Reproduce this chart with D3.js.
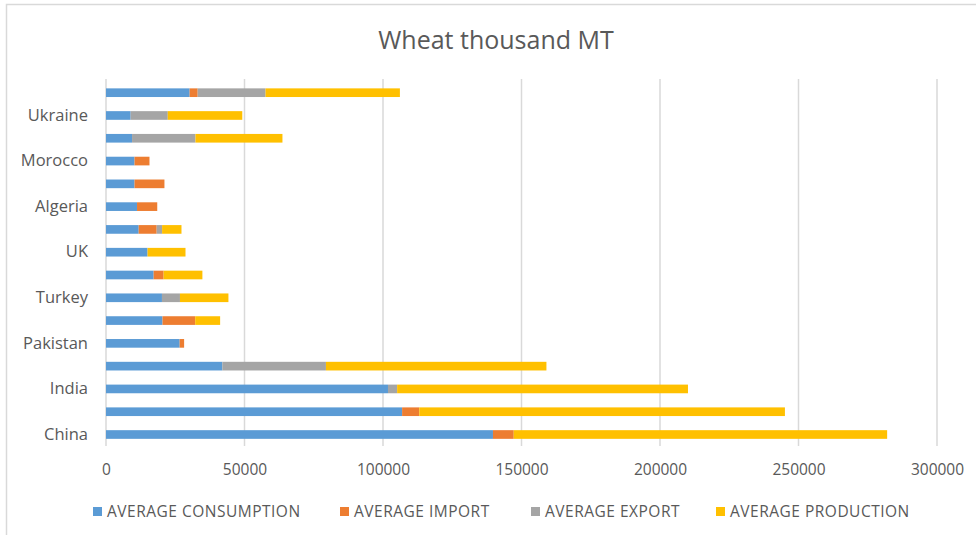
<!DOCTYPE html>
<html>
<head>
<meta charset="utf-8">
<script src="https://cdn.jsdelivr.net/npm/d3@7"></script>
<style>
    body { margin: 0; background: #fff; }
    svg { display: block; }
</style>
</head>
<body>
<div id="chart"></div>
<script>
// bottom to top, only every other label is printed
const countries = ["China", "EU", "India", "Russia", "Pakistan", "Egypt", "Turkey", "Iran",
    "UK", "Brazil", "Algeria", "Indonesia", "Morocco", "Canada", "Ukraine", "USA"];
const consumption = [139700, 106900, 101800, 42000, 26600, 20400, 20200, 17200,
    15000, 11800, 11200, 10300, 10300, 9400, 8900, 30200];
const imports = [7500, 6200, 0, 0, 1600, 11800, 0, 3600,
    0, 6500, 7300, 10800, 5400, 0, 0, 2900];
const exports = [0, 0, 3300, 37400, 0, 0, 6500, 0,
    0, 1950, 0, 0, 0, 22900, 13400, 24500];
const production = [134800, 132000, 105000, 79600, 0, 9000, 17500, 14000,
    13700, 7000, 0, 0, 0, 31400, 26900, 48500];
const seriesNames = ["AVERAGE CONSUMPTION", "AVERAGE IMPORT", "AVERAGE EXPORT", "AVERAGE PRODUCTION"];
const xTicks = [0, 50000, 100000, 150000, 200000, 250000, 300000];

const colors = ["#5b9bd5", "#ed7d31", "#a5a5a5", "#ffc000"];
const width = 976, height = 535;
const font = "'Open Sans', 'DejaVu Sans', sans-serif";

const rows = countries.map((c, i) => ({
    country: c, c: consumption[i], i: imports[i], e: exports[i], p: production[i]
}));
const keys = ["c", "i", "e", "p"];

const svg = d3.select("#chart").append("svg")
    .attr("width", width)
    .attr("height", height);

// chart frame
svg.append("path")
    .attr("d", "M6.5,535 V4.5 H976")
    .attr("fill", "none")
    .attr("stroke", "#d9d9d9")
    .attr("stroke-width", 1.5);

svg.append("text")
    .attr("x", 496)
    .attr("y", 49)
    .attr("text-anchor", "middle")
    .style("font-family", font)
    .style("font-size", "25px")
    .attr("fill", "#595959")
    .text("Wheat thousand MT");

const x = d3.scaleLinear().domain([0, 300000]).range([106, 937]);
const y = d3.scaleBand()
    .domain(countries.slice().reverse())
    .range([81.3, 445.9])
    .paddingInner(0.62)
    .paddingOuter(0.31);

// vertical gridlines
svg.append("g")
    .selectAll("line")
    .data(xTicks)
    .join("line")
    .attr("x1", d => x(d))
    .attr("x2", d => x(d))
    .attr("y1", 79)
    .attr("y2", 446)
    .attr("stroke", "#d9d9d9")
    .attr("stroke-width", 1.5);

const stack = d3.stack().keys(keys)(rows);

svg.append("g")
    .selectAll("g")
    .data(stack)
    .join("g")
    .attr("fill", (d, i) => colors[i])
    .selectAll("rect")
    .data(d => d)
    .join("rect")
    .attr("x", d => x(d[0]))
    .attr("y", d => y(d.data.country))
    .attr("width", d => x(d[1]) - x(d[0]))
    .attr("height", y.bandwidth());

// x axis labels
const xAxis = svg.append("g")
    .attr("transform", "translate(0,446)")
    .call(d3.axisBottom(x).tickValues(xTicks).tickFormat(d3.format("d")).tickSize(0).tickPadding(18));
xAxis.select(".domain").remove();
xAxis.selectAll("text")
    .style("font-family", font)
    .style("font-size", "15.5px")
    .attr("fill", "#595959");

// y axis, every second label
const yAxis = svg.append("g")
    .attr("transform", "translate(88,0)")
    .call(d3.axisLeft(y).tickSize(0).tickPadding(0)
        .tickFormat((d, i) => countries.indexOf(d) % 2 === 0 ? d : ""));
yAxis.select(".domain").remove();
yAxis.selectAll("text")
    .style("font-family", font)
    .style("font-size", "16.5px")
    .attr("fill", "#595959");

// legend
const legendX = [93, 340, 531, 716];
const legend = svg.append("g")
    .selectAll("g")
    .data(seriesNames)
    .join("g")
    .attr("transform", (d, i) => `translate(${legendX[i]},511)`);
legend.append("rect")
    .attr("x", 0)
    .attr("y", -4)
    .attr("width", 9)
    .attr("height", 9)
    .attr("fill", (d, i) => colors[i]);
legend.append("text")
    .attr("x", 14)
    .attr("y", 6)
    .style("font-family", font)
    .style("font-size", "15.5px")
    .style("letter-spacing", "0.5px")
    .attr("fill", "#595959")
    .text(d => d);
</script>
</body>
</html>
